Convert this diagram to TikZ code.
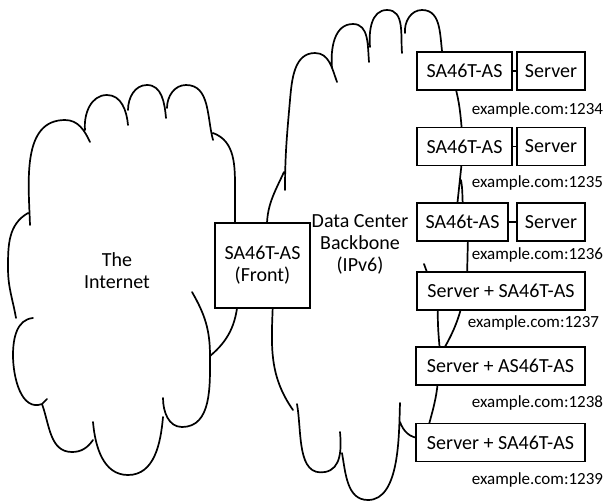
\documentclass[tikz,border=0pt]{standalone}
\usepackage{fontspec}
\setmainfont{Carlito}
\usepackage{tikz}
\usepackage{xcolor}
\definecolor{FontColor}{HTML}{000000}
\newcommand\nodeinet{The\\Internet}
\newcommand\nodedc{Data Center\\Backbone\\(IPv6)}
\newcommand\nodefront{SA46T-AS\\(Front)}
\newcommand\nodesa{SA46T-AS}
\newcommand\nodesat{SA46t-AS}
\newcommand\nodesrv{Server}
\newcommand\nodesrvsa{Server + SA46T-AS}
\newcommand\nodesrvas{Server + AS46T-AS}
\newcommand\nodeaddr[1]{example.com:#1}
\tikzstyle{mynodestyle} = [rectangle, inner sep=0pt, text=FontColor, align=center, font=\fontsize{20}{22}\selectfont]
\tikzstyle{bx} = [mynodestyle, draw, fill=white, minimum height=38pt]
\tikzstyle{txt} = [mynodestyle]
\tikzstyle{addr} = [mynodestyle, anchor=west, font=\fontsize{17}{20}\selectfont]
\tikzstyle{cloudline} = [line cap=round]
\tikzset{every picture/.style={line width=1.7pt}}

\begin{document}
\begin{tikzpicture}[x=1pt, y=-1pt]
\useasboundingbox (0,0) rectangle (609,501);
\draw[cloudline]
 (30,225) to[out=92,in=180] (65,120) to[out=0,in=115] (90,142)
 (85,130) to[out=95,in=180] (107,95) to[out=0,in=95] (128,125)
 (128,110) to[out=90,in=180] (147,85) to[out=0,in=95] (166,118)
 (167,108) to[out=90,in=180] (186,85) to[out=0,in=105] (213,140)
 (213,133) to[out=-20,in=90] (235,190) -- (235,230)
 (238,300) to[out=265,in=40] (210,356)
 (192,292) to[out=300,in=90] (210,356) to[out=270,in=0] (182,427) to[out=180,in=270] (163,398)
 (163,417) to[out=265,in=0] (128,475) to[out=180,in=275] (93,422)
 (93,440) to[out=235,in=0] (72,452) to[out=180,in=290] (42,404) -- (47,399)
 (42,404) to[out=200,in=270] (13,355) to[out=90,in=185] (33,318)
 (16,318) to[out=100,in=270] (8,268) to[out=90,in=210] (28,213);
\draw[cloudline]
 (267,230) to[out=92,in=245] (284,172)
 (285,190) to[out=90,in=265] (290,100) to[out=85,in=180] (315,53) to[out=0,in=110] (337,82)
 (332,68) to[out=95,in=180] (353,24) to[out=0,in=95] (369,62)
 (370,47) to[out=95,in=180] (387,10) to[out=0,in=95] (402,53)
 (405,33) to[out=95,in=180] (422,10) to[out=0,in=100] (443,58)
 (455,86) to[out=285,in=95] (462,132)
 (462,160) -- (457,207)
 (461,180) to[out=280,in=95] (463,207)
 (468,236) -- (467,278)
 (424,264) -- (428,275)
 (438,305) to[out=268,in=95] (440,352)
 (462,305) to[out=255,in=60] (442,352)
 (438,380) to[out=265,in=75] (428,428)
 (400,422) to[out=290,in=180] (420,438)
 (273,300) to[out=268,in=125] (293,410)
 (297,404) to[out=280,in=190] (325,472) to[out=10,in=275] (340,432)
 (342,453) to[out=280,in=180] (368,500) to[out=0,in=268,looseness=0.8] (400,403);
\node[txt] (inet) at (117,271) {\nodeinet};
\node[txt] (dc) at (360,244) {\nodedc};
\node[bx, minimum width=95pt, minimum height=85pt] (front) at (262.5,265.5) {\nodefront};
\node[bx, minimum width=95pt] (sa1) at (464.5,71) {\nodesa};
\node[bx, minimum width=68pt] (srv1) at (551,71) {\nodesrv};
\node[addr] (a1) at (471,110) {\nodeaddr{1234}};
\node[bx, minimum width=95pt] (sa2) at (464.5,146.5) {\nodesa};
\node[bx, minimum width=68pt] (srv2) at (551,146.5) {\nodesrv};
\node[addr] (a2) at (471,183) {\nodeaddr{1235}};
\node[bx, minimum width=91pt] (sa3) at (462.5,222) {\nodesat};
\node[bx, minimum width=68pt] (srv3) at (551,222) {\nodesrv};
\node[addr] (a3) at (471,255) {\nodeaddr{1236}};
\node[bx, minimum width=168pt] (sv4) at (501,291) {\nodesrvsa};
\node[addr] (a4) at (467,323) {\nodeaddr{1237}};
\node[bx, minimum width=169pt] (sv5) at (500.5,366) {\nodesrvas};
\node[addr] (a5) at (471,403) {\nodeaddr{1238}};
\node[bx, minimum width=169pt] (sv6) at (500.5,442.5) {\nodesrvsa};
\node[addr] (a6) at (471,480) {\nodeaddr{1239}};
\draw (sa1) -- (srv1);
\draw (sa2) -- (srv2);
\draw (sa3) -- (srv3);
\end{tikzpicture}
\end{document}
